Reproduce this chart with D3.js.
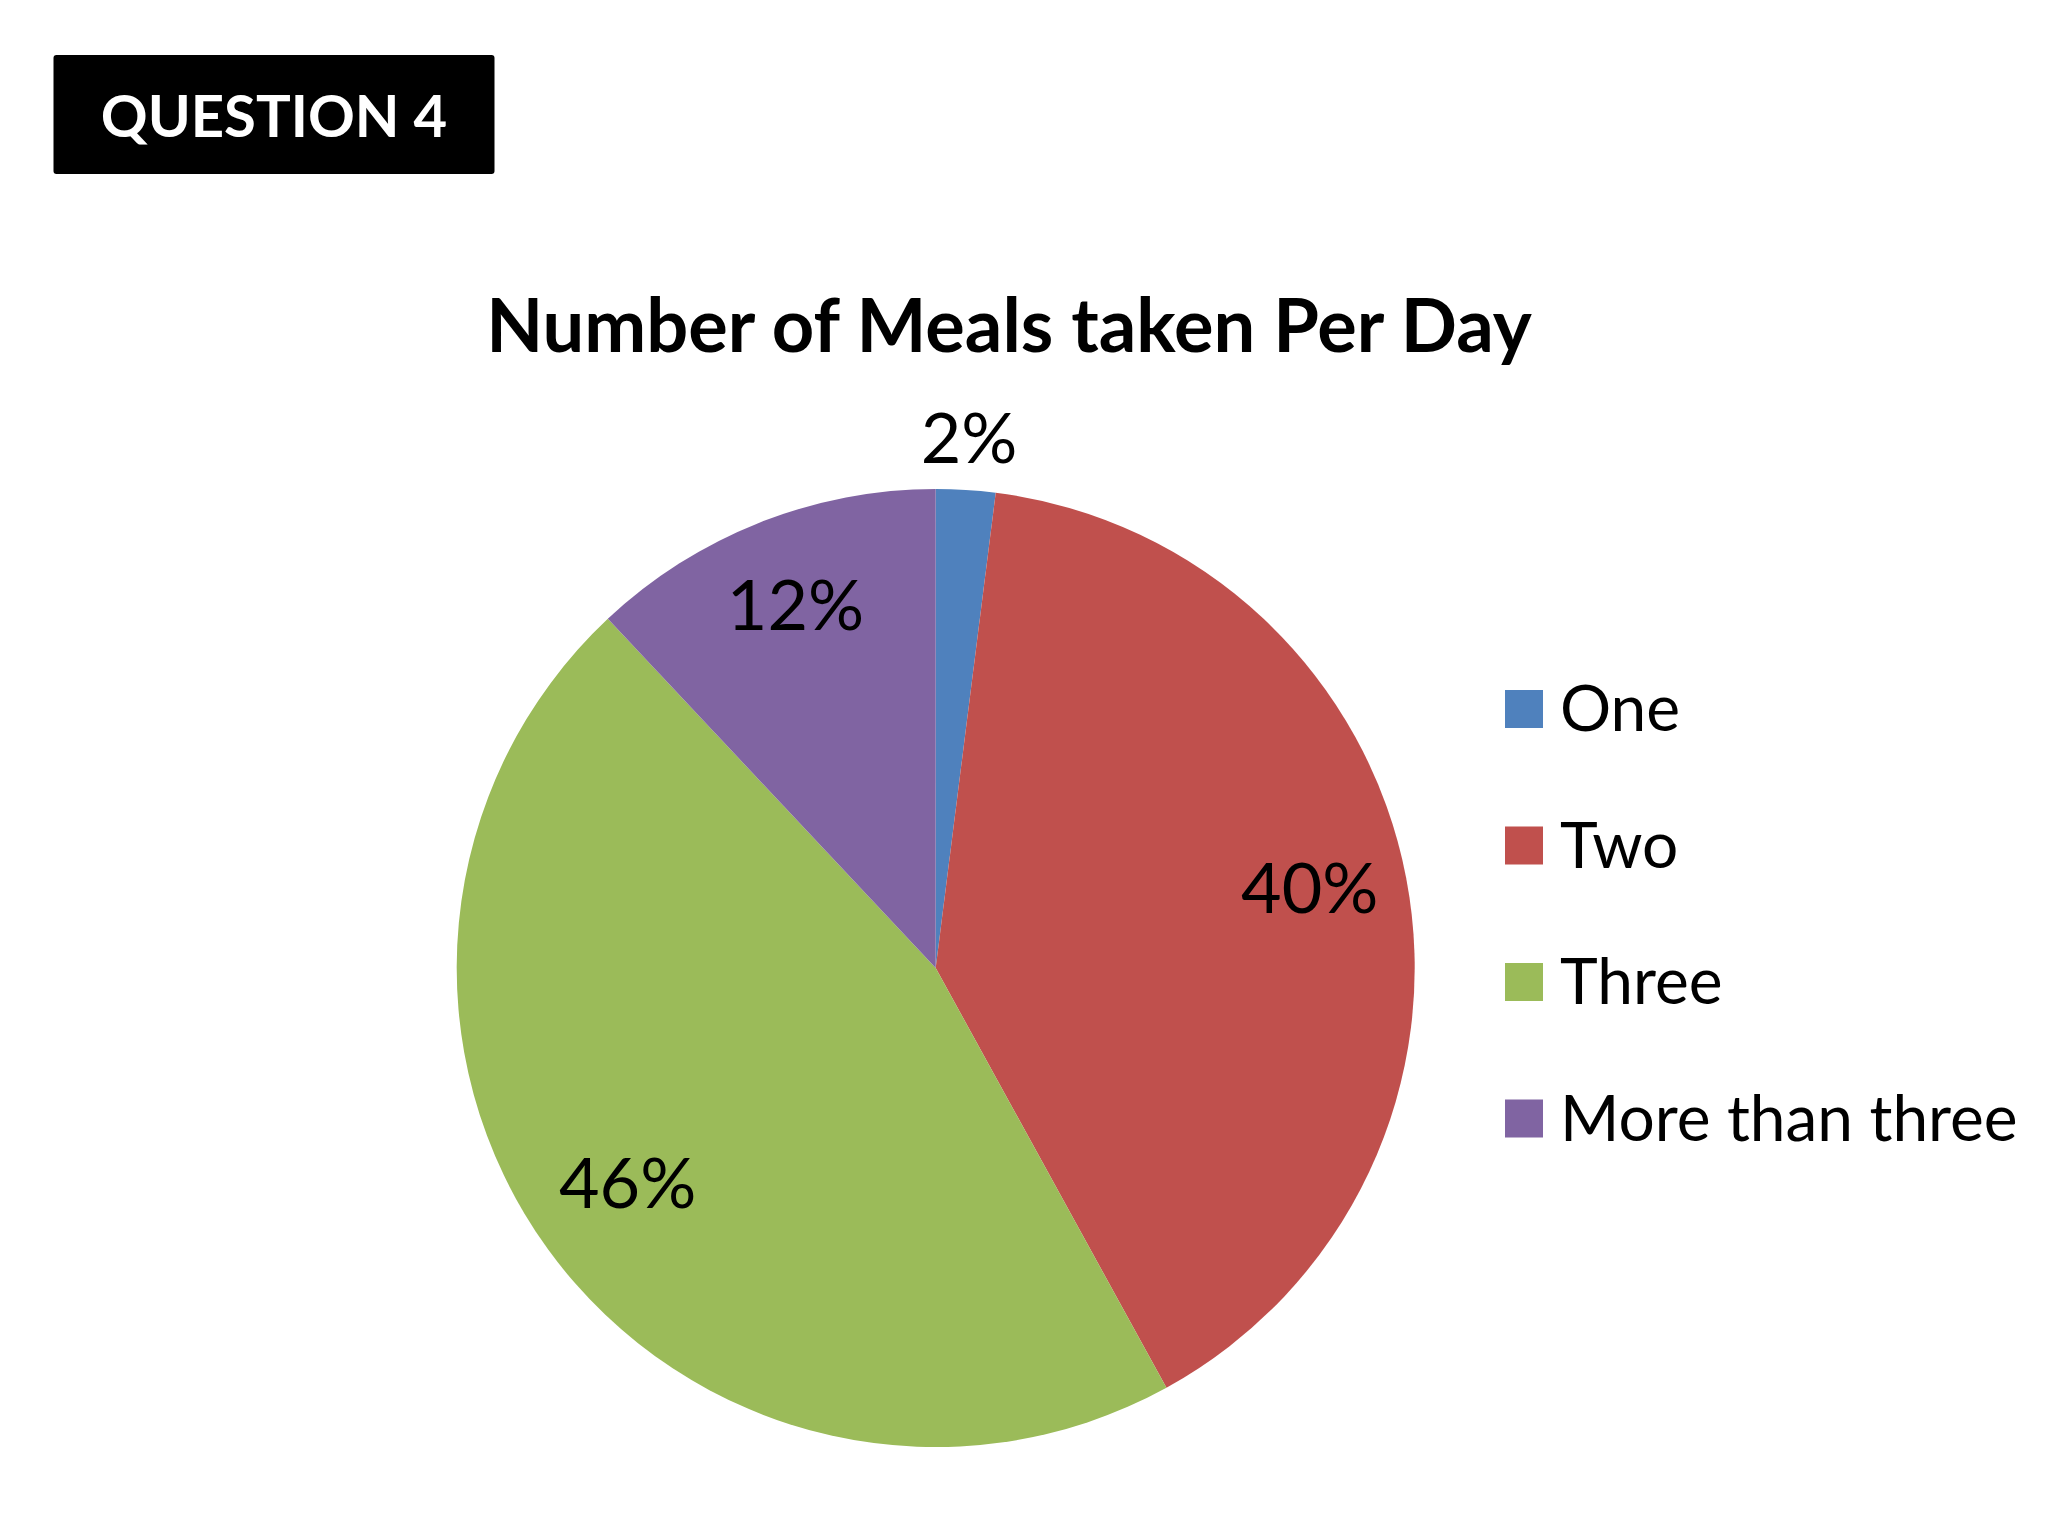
<!DOCTYPE html>
<html>
<head>
<meta charset="utf-8">
<script src="https://cdn.jsdelivr.net/npm/d3@7"></script>
<style>
  html, body { margin: 0; padding: 0; background: #fff; }
  svg { display: block; }
</style>
</head>
<body>
<svg id="chart"></svg>
<script>
const categories = ['One', 'Two', 'Three', 'More than three'];
const values = [2, 40, 46, 12];
const colors = ['#4F81BD', '#C0504D', '#9BBB59', '#8064A2'];
const heading = 'QUESTION 4';
const title = 'Number of Meals taken Per Day';

const width = 2048;
const height = 1536;
const font = 'Lato, "Open Sans", sans-serif';

const cx = 935.7;
const cy = 968;
const radius = 479;

const data = categories.map((name, i) => ({ name, value: values[i] }));

const svg = d3.select('#chart')
  .attr('width', width)
  .attr('height', height)
  .attr('viewBox', [0, 0, width, height])
  .attr('font-family', font);

svg.append('rect')
  .attr('width', width)
  .attr('height', height)
  .attr('fill', '#fff');

// heading box
svg.append('rect')
  .attr('x', 53.5)
  .attr('y', 55)
  .attr('width', 441)
  .attr('height', 119)
  .attr('rx', 3)
  .attr('fill', '#000');

svg.append('text')
  .attr('x', 274)
  .attr('y', 137)
  .attr('text-anchor', 'middle')
  .attr('font-size', 58)
  .attr('font-weight', 700)
  .attr('fill', '#fff')
  .text(heading);

svg.append('text')
  .attr('x', 1009)
  .attr('y', 352)
  .attr('text-anchor', 'middle')
  .attr('font-size', 74)
  .attr('font-weight', 700)
  .attr('fill', '#000')
  .text(title);

const color = d3.scaleOrdinal()
  .domain(categories)
  .range(colors);

const pie = d3.pie()
  .sort(null)
  .value(d => d.value);

const arcs = pie(data);
const total = d3.sum(values);

const arc = d3.arc()
  .innerRadius(0)
  .outerRadius(radius);

const labelArc = d3.arc()
  .innerRadius(radius * 0.795)
  .outerRadius(radius * 0.795);

const outerLabelArc = d3.arc()
  .innerRadius(radius * 1.11)
  .outerRadius(radius * 1.11);

const g = svg.append('g')
  .attr('transform', `translate(${cx},${cy})`);

g.selectAll('path')
  .data(arcs)
  .join('path')
  .attr('fill', d => color(d.data.name))
  .attr('d', arc);

g.selectAll('text')
  .data(arcs)
  .join('text')
  .each(d => { d.small = d.data.value / total < 0.05; })
  .attr('transform', d => `translate(${(d.small ? outerLabelArc : labelArc).centroid(d)})`)
  .attr('dy', d => d.small ? '0.36em' : '0.23em')
  .attr('text-anchor', 'middle')
  .attr('font-size', 70)
  .attr('fill', '#000')
  .text(d => `${Math.round(d.data.value / total * 100)}%`);

// legend
const legendY = d3.scalePoint()
  .domain(categories)
  .range([709, 1118.5]);

const legend = svg.append('g')
  .selectAll('g')
  .data(categories)
  .join('g')
  .attr('transform', d => `translate(1505,${legendY(d)})`);

legend.append('rect')
  .attr('y', -19)
  .attr('width', 38)
  .attr('height', 38)
  .attr('fill', d => color(d));

legend.append('text')
  .attr('x', 55)
  .attr('dy', '0.35em')
  .attr('font-size', 64)
  .attr('fill', '#000')
  .text(d => d);
</script>
</body>
</html>
